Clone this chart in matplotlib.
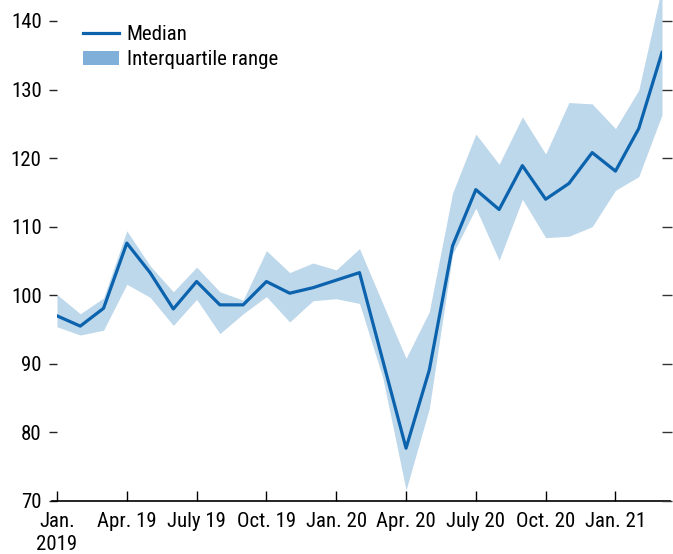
import matplotlib
matplotlib.use("Agg")
import matplotlib.pyplot as plt
from matplotlib import font_manager
from matplotlib.patches import Patch
from matplotlib.lines import Line2D
import numpy as np

months = ["Jan 19", "Feb 19", "Mar 19", "Apr 19", "May 19", "Jun 19", "Jul 19", "Aug 19", "Sep 19",
          "Oct 19", "Nov 19", "Dec 19", "Jan 20", "Feb 20", "Mar 20", "Apr 20", "May 20", "Jun 20",
          "Jul 20", "Aug 20", "Sep 20", "Oct 20", "Nov 20", "Dec 20", "Jan 21", "Feb 21", "Mar 21"]
median = [97.0, 95.5, 98.1, 107.6, 103.3, 98.0, 102.0, 98.6, 98.6,
          102.0, 100.3, 101.1, 102.2, 103.3, 90.5, 77.7, 89.1, 107.2,
          115.4, 112.5, 118.9, 114.0, 116.3, 120.8, 118.1, 124.3, 135.4]
upper = [100.1, 97.3, 99.6, 109.4, 104.3, 100.5, 104.1, 100.5, 99.3,
         106.5, 103.3, 104.7, 103.7, 106.8, 98.8, 90.8, 97.6, 114.9,
         123.5, 119.1, 126.0, 120.6, 128.1, 127.9, 124.3, 129.9, 145.0]
lower = [95.4, 94.2, 94.9, 101.6, 99.7, 95.6, 99.4, 94.4, 97.3,
         99.8, 96.1, 99.2, 99.5, 98.8, 88.0, 71.6, 83.5, 106.0,
         112.7, 105.1, 114.0, 108.4, 108.6, 110.0, 115.3, 117.3, 126.3]
tick_pos = [0, 3, 6, 9, 12, 15, 18, 21, 24]
tick_labels = ["Jan.\n2019", "Apr. 19", "July 19", "Oct. 19", "Jan. 20",
               "Apr. 20", "July 20", "Oct. 20", "Jan. 21"]
y_ticks = [70, 80, 90, 100, 110, 120, 130, 140]

avail = {f.name for f in font_manager.fontManager.ttflist}
fam = "Liberation Sans Narrow" if "Liberation Sans Narrow" in avail else "Roboto Condensed" if "Roboto Condensed" in avail else "Liberation Sans"
plt.rcParams["font.family"] = [fam, "DejaVu Sans"]

line_c = "#0b62ad"
band_c = "#bdd7eb"
leg_band_c = "#80b0d9"
fs = 15

fig = plt.figure(figsize=(6.73, 5.54), dpi=100)
ax = fig.add_axes([57/673, 1 - 501/554, (662-57)/673, 501/554])
x = np.arange(len(months))
ax.fill_between(x, lower, upper, color=band_c, linewidth=0, zorder=1)
ax.plot(x, median, color=line_c, linewidth=2.3, zorder=2)

ax.set_xlim(0, 26)
ax.set_ylim(70, 143.05)
for s in ["left", "top", "right"]:
    ax.spines[s].set_visible(False)
ax.spines["bottom"].set_linewidth(1.2)
ax.spines["bottom"].set_bounds(-0.22, 26.35)

ax.set_xticks(tick_pos)
ax.set_xticklabels(tick_labels, fontsize=fs, linespacing=1.25)
ax.tick_params(axis="x", direction="in", length=7, width=1.0, pad=8)
ax.set_yticks(y_ticks)
ax.set_yticklabels([str(v) for v in y_ticks], fontsize=fs)
ax.tick_params(axis="y", direction="out", length=6, width=1.0, pad=5, colors="#222222", labelcolor="black")

ax2 = ax.twinx()
ax2.set_ylim(ax.get_ylim())
ax2.set_yticks(y_ticks)
ax2.set_yticklabels([])
for s in ["left", "top", "right", "bottom"]:
    ax2.spines[s].set_visible(False)
ax2.tick_params(axis="y", direction="out", length=7, width=1.0, colors="#333333")

handles = [Line2D([0], [0], color=line_c, linewidth=2.3),
           Patch(facecolor=leg_band_c, edgecolor="none")]
ax.legend(handles, ["Median", "Interquartile range"], loc="upper left",
          bbox_to_anchor=(0.043, 0.950), frameon=False, fontsize=fs,
          handlelength=1.75, handleheight=0.65, handletextpad=0.35, labelspacing=0.3,
          borderaxespad=0, borderpad=0)

fig.savefig("out.png", dpi=100)
